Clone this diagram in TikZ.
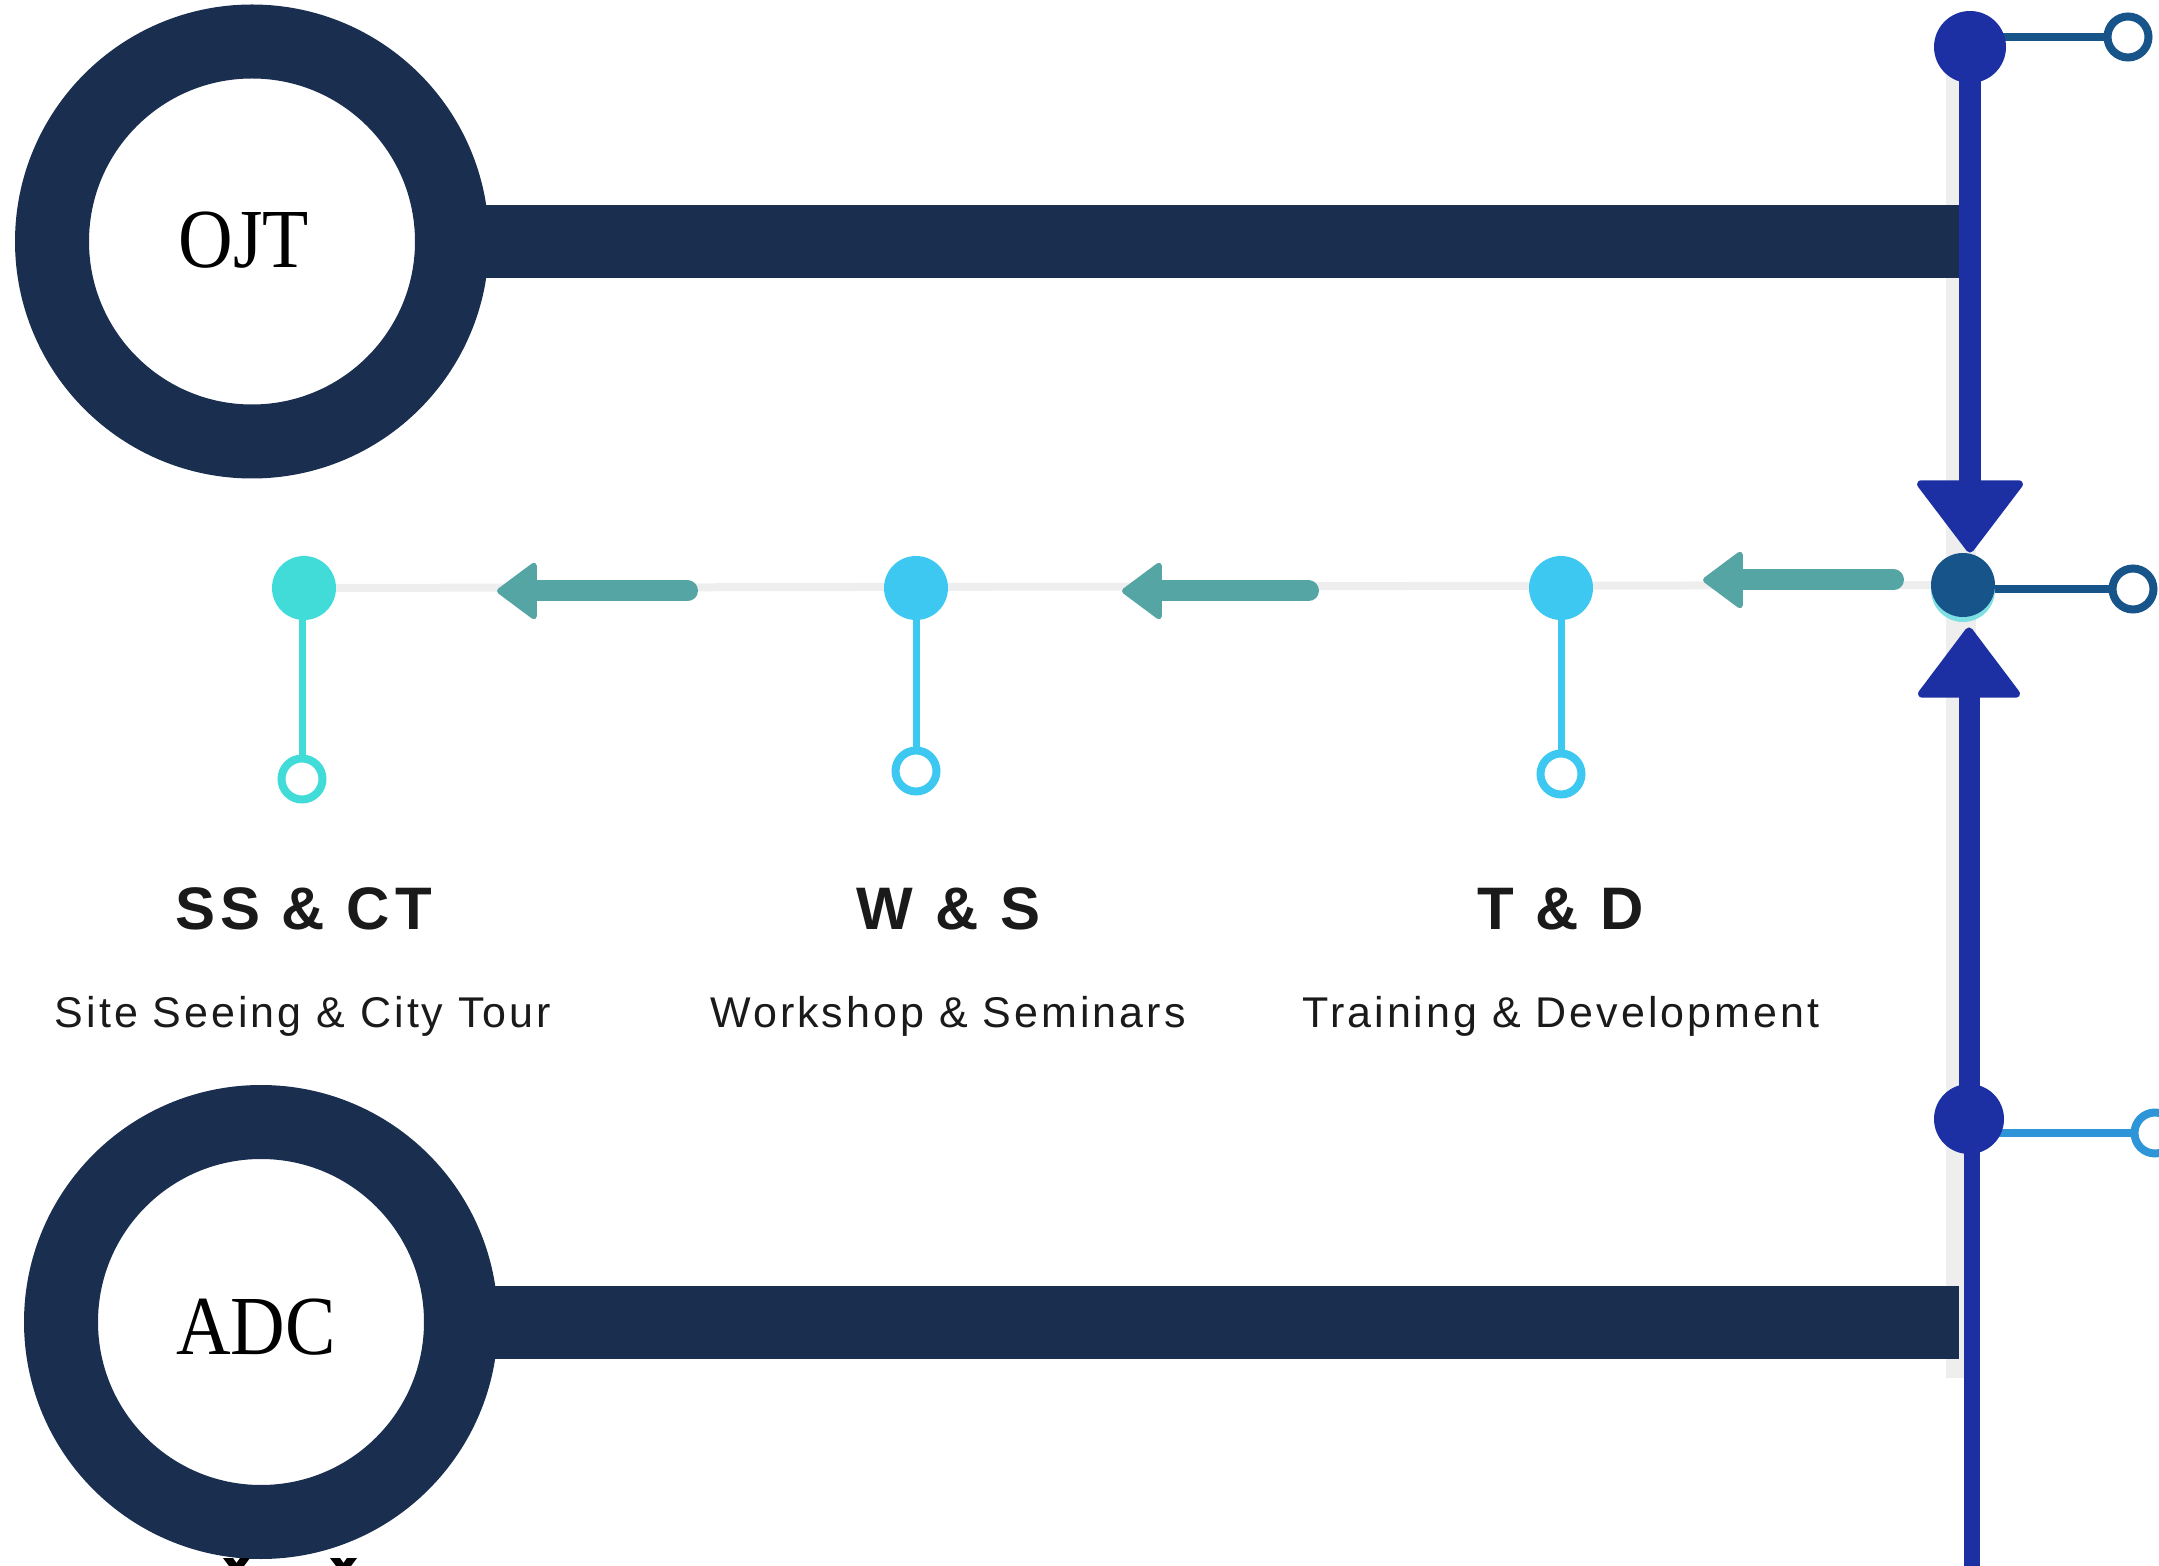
\documentclass[tikz,border=0pt]{standalone}
\usepackage{fontspec}
\usepackage{graphicx}
\usetikzlibrary{arrows.meta}
\newfontfamily\hfont{Liberation Sans}[LetterSpace=8.3]
\newfontfamily\subfont{Liberation Sans}[LetterSpace=7]
\newfontfamily\serfont{Liberation Serif}
\definecolor{navy}{HTML}{1A2E50}
\definecolor{vblue}{HTML}{1C2FA3}
\definecolor{midc}{HTML}{16548A}
\definecolor{midsh}{HTML}{7EE0E2}
\definecolor{turq}{HTML}{41DBD8}
\definecolor{sky}{HTML}{3CC8F0}
\definecolor{tealc}{HTML}{55A5A5}
\definecolor{grayc}{HTML}{EEEEEE}
\definecolor{lblue}{HTML}{2E96D8}
\definecolor{ink}{HTML}{1A1A1A}
\pgfdeclarelayer{bg}
\pgfdeclarelayer{lines}
\pgfsetlayers{bg,lines,main}
\begin{document}
\begin{tikzpicture}[x=0.5pt,y=-0.5pt,
  ring/.style={circle, draw=navy, line width=37pt, fill=white, minimum size=200pt, inner sep=0pt},
  bar/.style={draw=navy, line width=36.5pt},
  dot/.style={circle, fill=#1, minimum size=32pt, inner sep=0pt},
  hollow/.style={circle, draw=#1, fill=white, line width=4pt, minimum size=20.5pt, inner sep=0pt},
  stem/.style={draw=#1, line width=3.5pt},
  link/.style={draw=#1, line width=4pt},
  gline/.style={draw=grayc, line width=4pt},
  flow/.style={draw=tealc, fill=tealc, line width=10.5pt, line cap=round,
    -{Triangle[length=21pt,width=30.5pt,round,line width=3pt]}},
  vline/.style={draw=vblue, line width=11pt},
  head/.style={font=\hfont\bfseries\fontsize{30pt}{36pt}\selectfont, text=ink, anchor=base, inner sep=0pt},
  sub/.style={font=\subfont\fontsize{21.5pt}{26pt}\selectfont, text=ink, anchor=base, inner sep=0pt},
  big/.style={font=\serfont\fontsize{42pt}{50pt}\selectfont, text=black, anchor=base, inner sep=0pt}
]
\useasboundingbox (0,0) rectangle (2159,1566);
\clip (0,0) rectangle (2159,1566);

% big rings
\node[ring] (ojt) at (252,241.5) {};
\node[big] (ojtt) at (244,268) {\scalebox{0.9}[1]{OJT}};
\node[ring] (adc) at (261,1322) {};
\node[big] (adct) at (256,1354) {\scalebox{0.9}[1]{ADC}};
\coordinate (ojtend) at (1959,241.5);
\coordinate (adcend) at (1959,1322);

% row dots
\node[dot=turq] (ssdot) at (304,588) {};
\node[dot=sky] (wsdot) at (916,588) {};
\node[dot=sky] (tddot) at (1561,588) {};
\node[hollow=turq] (sshol) at (302,779) {};
\node[hollow=sky] (wshol) at (916,771) {};
\node[hollow=sky] (tdhol) at (1561,774) {};

% right column
\node[dot=vblue, minimum size=36pt] (topdot) at (1970,47) {};
\node[dot=midsh] (midshadow) at (1963,590) {};
\node[dot=midc] (middot) at (1963,585) {};
\node[dot=vblue, minimum size=35pt] (botdot) at (1969,1119) {};
\node[hollow=midc] (trhol) at (2128,37) {};
\node[hollow=midc] (mrhol) at (2133,589) {};
\node[hollow=lblue] (brhol) at (2155,1133) {};
\coordinate (vbot) at (1972,1600);

% arrow coordinates
\coordinate (a1s) at (687.5,591);
\coordinate (a1e) at (497,591);
\coordinate (a2s) at (1308.5,591);
\coordinate (a2e) at (1122,591);
\coordinate (a3s) at (1893.5,580);
\coordinate (a3e) at (1703,580);

% labels
\node[head] (h1) at (303.5,929) {SS \& CT};
\node[head] (h2) at (948.5,929) {W \& S};
\node[head] (h3) at (1561,929) {T \& D};
\node[sub] (s1) at (303,1028) {Site Seeing \& City Tour};
\node[sub] (s2) at (948,1028) {Workshop \& Seminars};
\node[sub] (s3) at (1561,1028) {Training \& Development};

\begin{pgfonlayer}{bg}
  \fill[grayc] (1946,40) rectangle (1976,1378);
  \draw[gline] (ssdot.center) -- (middot.center);
  \draw[bar] (ojt.center) -- (ojtend);
  \draw[bar] (adc.center) -- (adcend);
\end{pgfonlayer}

\begin{pgfonlayer}{lines}
  \draw[stem=turq] (sshol.center) -- (sshol.center |- ssdot.center);
  \draw[stem=sky] (wshol.center) -- (wsdot.center);
  \draw[stem=sky] (tdhol.center) -- (tddot.center);
  \draw[link=midc] (topdot.center |- trhol.center) -- (trhol.center);
  \draw[link=midc] (middot.center |- mrhol.center) -- (mrhol.center);
  \draw[link=lblue] (botdot.center |- brhol.center) -- (brhol.center);
  \draw[vline, -{Triangle[length=37.5pt,width=56pt,round,line width=4pt]}]
    (topdot.center) -- (topdot.center |- middot.north);
  \draw[vline, line width=10.5pt, shorten >=5pt, -{Triangle[length=36.5pt,width=54pt,round,line width=4pt]}]
    (botdot.center) -- (botdot.center |- middot.south);
  \draw[draw=vblue, line width=8pt] (vbot |- botdot.center) -- (vbot);
  \draw[flow] (a1s) -- (a1e);
  \draw[flow] (a2s) -- (a2e);
  \draw[flow] (a3s) -- (a3e);
\end{pgfonlayer}

% clipped letter tops at the bottom edge
\fill[black] (223,1558) -- (233,1558) -- (236.5,1563) -- (240,1558) -- (250,1558) -- (244,1566) -- (229,1566) -- cycle;
\fill[black] (330,1558) -- (340,1558) -- (343.5,1563) -- (347,1558) -- (357,1558) -- (351,1566) -- (336,1566) -- cycle;
\end{tikzpicture}
\end{document}
